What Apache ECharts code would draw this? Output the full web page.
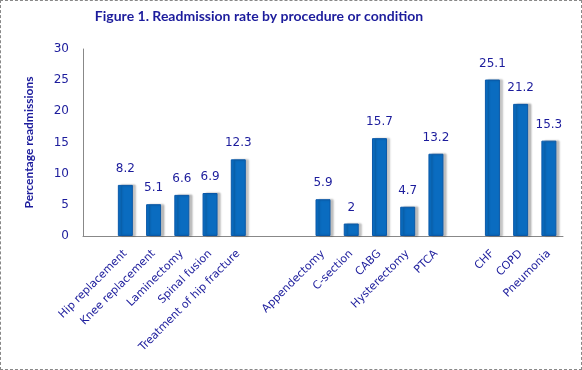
<!DOCTYPE html>
<html><head><meta charset="utf-8">
<script src="https://cdn.jsdelivr.net/npm/echarts@6/dist/echarts.min.js"></script>
<style>html,body{margin:0;padding:0;background:#fff}
#c{width:580px;height:368px;border:1px dashed #888;}</style>
</head><body><div id="c"></div>
<script>
const categories = ['', 'Hip replacement', 'Knee replacement', 'Laminectomy', 'Spinal fusion', 'Treatment of hip fracture', '', ' ', 'Appendectomy', 'C-section', 'CABG', 'Hysterectomy', 'PTCA', '  ', 'CHF', 'COPD', 'Pneumonia'];
const values = [null, 8.2, 5.1, 6.6, 6.9, 12.3, null, null, 5.9, 2, 15.7, 4.7, 13.2, null, 25.1, 21.2, 15.3];
const yTicks = [0, 5, 10, 15, 20, 25, 30];
const txt = '#1c1c9c';
const chart = echarts.init(document.getElementById('c'));
chart.setOption({
  animation: false,
  title: {text: 'Figure 1. Readmission rate by procedure or condition', left: 253, textAlign: 'center', top: 3,
    textStyle: {color: txt, fontSize: 14, fontWeight: 'bold', fontFamily: 'Lato'}},
  grid: {left: 82, right: 18, top: 48, bottom: 133},
  xAxis: {type: 'category', data: categories,
    axisLine: {lineStyle: {color: '#888'}}, axisTick: {show: false},
    axisLabel: {interval: 0, rotate: 45, color: txt, fontSize: 11, fontFamily: 'DejaVu Sans', margin: 16}},
  yAxis: {type: 'value', min: yTicks[0], max: yTicks[yTicks.length-1], interval: 5,
    name: 'Percentage readmissions', nameLocation: 'middle', nameGap: 48, nameRotate: 90,
    nameTextStyle: {color: txt, fontSize: 12, fontWeight: 'bold', fontFamily: 'Lato'},
    axisLine: {show: true, lineStyle: {color: '#888'}}, axisTick: {show: false}, splitLine: {show: false},
    axisLabel: {color: txt, fontSize: 12, fontFamily: 'DejaVu Sans', margin: 14}},
  series: [{type: 'bar', data: values, barWidth: 15,
    itemStyle: {color: '#0a6cc0', borderColor: '#0a58a8', borderWidth: 1, shadowColor: 'rgba(0,0,0,0.25)', shadowOffsetX: 3, shadowOffsetY: 0, shadowBlur: 2},
    label: {show: true, position: 'top', distance: 10, color: txt, fontSize: 12, fontFamily: 'DejaVu Sans'}}]
});
</script></body></html>
